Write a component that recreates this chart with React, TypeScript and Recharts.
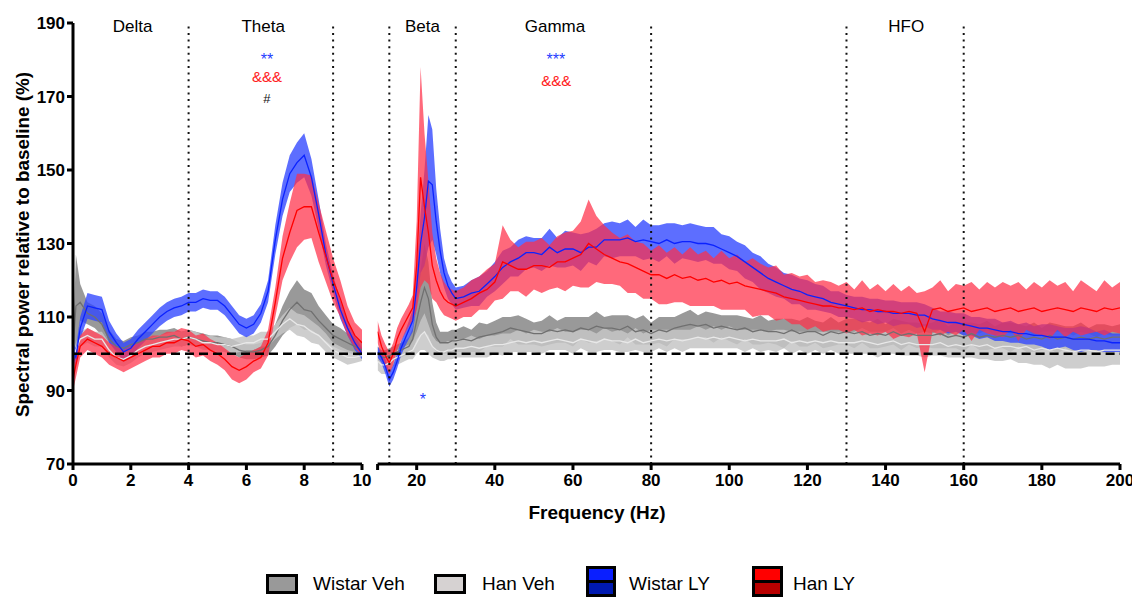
import React from 'react';
import { ComposedChart, Area, Line, XAxis, YAxis, ReferenceLine, ReferenceDot } from 'recharts';

// ---------- Left panel (0-10 Hz) ----------
const LEFT_FREQ = [0, 0.1, 0.25, 0.5, 0.75, 1, 1.25, 1.5, 1.75, 2, 2.25, 2.5, 2.75, 3, 3.25, 3.5, 3.75, 4, 4.25, 4.5, 4.75, 5, 5.25, 5.5, 5.75, 6, 6.25, 6.5, 6.75, 7, 7.25, 7.5, 7.75, 8, 8.25, 8.5, 8.75, 9, 9.25, 9.5, 9.75, 10];

const WISTAR_VEH_L_MEAN = [101, 113, 114, 111, 110, 108, 104, 102, 101.5, 102.5, 103, 104, 104, 104.5, 104.5, 105, 104, 104.5, 104, 103.5, 103, 103, 102.5, 102, 101, 100.5, 100.5, 101, 102, 105, 109, 112, 114, 112, 111.5, 109, 107, 105, 104, 103, 102, 101];
const WISTAR_VEH_L_SEM = [1, 14, 5, 3, 3, 3, 2.5, 2, 2, 2, 2, 2, 2, 2, 2, 2, 2, 2, 2, 2, 2, 2, 2, 2, 2, 2, 2, 2, 2.5, 3, 4, 5, 6, 5.5, 5, 4, 3.5, 3, 3, 2.5, 2.5, 2];

const HAN_VEH_L_MEAN = [99, 101, 104, 105, 104, 104, 101, 99, 98.5, 99.5, 101, 102, 102.5, 103, 103.5, 104, 104, 104.5, 104, 103, 103, 102.5, 102.5, 102, 102.5, 103, 103, 104, 104, 106, 108, 109.5, 108, 107.5, 106, 105, 103, 101, 100, 99, 99, 99.5];
const HAN_VEH_L_SEM = [1.5, 2, 2, 2, 2, 2, 2, 2, 2, 2, 2, 2, 2, 2, 2, 2, 2, 2, 2, 2, 2, 2, 2, 2, 2, 2, 2, 2, 2, 2, 2.5, 3, 3, 3, 3, 2.5, 2.5, 2, 2, 2, 1.5, 1.5];

const WISTAR_LY_L_MEAN = [101, 99, 107, 113, 112.5, 112, 106, 103, 100.5, 101.5, 104, 106, 108, 110, 111.5, 112.5, 113, 114, 114, 115, 114.5, 114.5, 113, 110.5, 108, 107, 108, 111, 117, 131, 142, 149, 152, 154, 148, 138, 127, 119, 112, 107, 103, 100];
const WISTAR_LY_L_SEM = [2, 2.5, 3, 3.5, 3.5, 3.5, 3, 2.5, 2.5, 2.5, 2.5, 2.5, 2.5, 2.5, 2.5, 2.5, 2.5, 2.5, 2.5, 2.5, 2.5, 2.5, 2.5, 2.5, 2.5, 2.5, 2.5, 2.5, 3, 4, 4.5, 5, 5.5, 6, 5, 4, 3, 2.5, 2.5, 2, 2, 1.5];

const HAN_LY_L_MEAN = [93, 97, 102, 104, 103, 102, 100, 99, 98, 99, 100, 101, 102, 102, 103, 103, 104, 103.5, 102, 102.5, 101, 100, 98.5, 96.5, 95.5, 96.5, 98, 99, 103, 114, 126, 133, 139, 140, 140, 133, 126.5, 120, 115, 109, 105, 103];
const HAN_LY_L_SEM = [3, 3.5, 3, 3, 3, 3, 3, 3, 3, 3, 3, 3, 3, 3, 3, 3, 3, 3, 3, 3, 3, 3, 3, 3.5, 3.5, 3.5, 3, 3, 3.5, 4, 6, 8, 10, 9, 8.5, 8, 7, 6, 5, 4, 3.5, 3.5];

// ---------- Right panel (10-200 Hz) ----------
const RIGHT_FREQ = [
  10, 11, 12, 13, 14, 15, 16, 17, 18, 19, 20, 21, 22, 23, 24, 25, 26, 27, 28, 29, 30,
  32, 34, 36, 38, 40, 42, 44, 46, 48, 50,
  52, 54, 56, 58, 60, 62, 64, 66, 68, 70,
  72, 74, 76, 78, 80, 82, 84, 86, 88, 90,
  92, 94, 96, 98, 100, 102, 104, 106, 108, 110,
  112, 114, 116, 118, 120, 122, 124, 126, 128, 130,
  132, 134, 136, 138, 140, 142, 144, 146, 148, 150,
  152, 154, 156, 158, 160, 162, 164, 166, 168, 170,
  172, 174, 176, 178, 180, 182, 184, 186, 188, 190,
  192, 194, 196, 198, 200,
];

const WISTAR_VEH_R_MEAN = [
  100, 99, 99, 99.5, 100, 100.5, 101, 101.5, 102, 104, 109, 114, 118, 115, 108, 104.5, 103, 103, 103, 103.5, 103.5,
  104, 103.5, 104.5, 105, 105.5, 106, 107, 106.5, 106, 105.5,
  105.5, 106.5, 106, 106.5, 106, 107, 106.5, 107.5, 107, 107,
  106.5, 107.5, 106, 106.5, 105.5, 106.5, 106, 107, 107.5, 108,
  107.5, 108, 107, 107.5, 107, 106.5, 107, 106, 106.5, 106,
  106, 105.5, 106.5, 105.5, 106, 106, 105, 106, 105.5, 106,
  105.5, 106, 105, 105.5, 105, 106, 105, 105.5, 105, 105,
  105, 105.5, 104.5, 105, 104.5, 105.5, 104.5, 105, 104.5, 105,
  104.5, 105, 104, 104.5, 104, 105, 104, 104.5, 104, 104.5,
  104, 104.5, 104, 104.5, 104.5,
];
const WISTAR_VEH_R_SEM = [
  2, 2, 2, 2, 2, 2, 2, 2, 2.5, 3, 5, 9, 12, 10, 6, 4, 3, 3, 3, 3, 3,
  3.5, 3, 4, 3, 3.5, 4, 3, 4, 3.5, 3,
  3.5, 4, 3, 3.5, 4, 3, 3.5, 4, 3, 3.5,
  4, 3, 3.5, 4, 3, 3.5, 4, 3, 3.5, 4,
  3, 3.5, 4, 3, 3.5, 4, 3, 3.5, 4, 3,
  3.5, 4, 3, 3.5, 4, 3, 3.5, 4, 3, 3.5,
  4, 3, 3.5, 4, 3, 3.5, 4, 3, 3.5, 3,
  3.5, 4, 3, 3.5, 4, 3, 3.5, 4, 3, 3.5,
  4, 3, 3.5, 4, 3, 3.5, 4, 3, 3.5, 4,
  3, 3.5, 4, 3, 3.5,
];

const HAN_VEH_R_MEAN = [
  98, 97, 97, 97.5, 98.5, 99, 99.5, 100, 100.5, 101, 103, 105, 106, 104, 102, 101, 100.5, 100.5, 101, 101, 101.5,
  101.5, 102, 101.5, 102, 102.5, 102.5, 103, 103.5, 103, 103.5,
  103, 103.5, 104, 103.5, 103, 104, 103.5, 103, 104, 103.5,
  103.5, 103, 104, 103, 103.5, 104, 103.5, 104, 103.5, 104,
  104.5, 104, 104.5, 104, 104.5, 104, 103.5, 104, 103.5, 103.5,
  103.5, 104, 103, 103.5, 103, 103.5, 103, 103.5, 103, 103,
  103, 103.5, 103, 102.5, 103, 103.5, 102.5, 103, 102.5, 102.5,
  102.5, 103, 102, 102.5, 102, 102.5, 102, 102.5, 101.5, 102,
  102, 101.5, 102, 101, 101.5, 101, 101.5, 101, 100.5, 101,
  101, 100.5, 101, 101, 101,
];
const HAN_VEH_R_SEM = [
  2.5, 2.5, 2.5, 2.5, 2, 2, 2, 2, 2, 2.5, 3, 4, 5, 4, 3, 2.5, 2.5, 2.5, 2.5, 2.5, 2.5,
  2.5, 3, 2.5, 3, 2.5, 3, 2.5, 3, 2.5, 3,
  3, 2.5, 3, 2.5, 3, 2.5, 3, 2.5, 3, 2.5,
  3, 2.5, 3, 2.5, 3, 2.5, 3, 2.5, 3, 2.5,
  3, 2.5, 3, 2.5, 3, 2.5, 3, 2.5, 3, 2.5,
  3, 2.5, 3, 2.5, 3, 2.5, 3, 2.5, 3, 3,
  3, 3.5, 3, 3.5, 3, 3.5, 3, 3.5, 3, 3.5,
  3, 3.5, 3, 3.5, 3, 3.5, 3.5, 4, 3.5, 4,
  3.5, 4, 4.5, 4, 4.5, 5, 4.5, 5, 4.5, 5,
  4.5, 4, 4.5, 4, 4,
];

const WISTAR_LY_R_MEAN = [
  100.5, 99, 96.5, 93, 95, 98, 101.5, 104, 106.5, 109, 118, 130, 137, 147, 146, 136, 128, 122, 118.5, 116.5, 115,
  115.5, 116.5, 117, 119, 121, 123.5, 125, 126, 127.5, 127.5,
  127, 129, 127.5, 128.5, 128.5, 127.5, 129, 129, 131, 131,
  131, 131.5, 130.5, 131, 130.5, 130, 131, 130, 130.5, 130.5,
  130, 130, 129.5, 128.5, 127.5, 126.5, 125, 123.5, 122, 120.5,
  119.5, 118.5, 117.5, 117, 116, 115.5, 115, 114, 113.5, 113,
  112.5, 112, 112, 111.5, 111.5, 111, 111, 111, 110.5, 110.5,
  109.5, 109, 108.5, 108.5, 108, 107.5, 107, 107, 106.5, 106,
  106, 105.5, 105.5, 105, 105, 104.5, 104.5, 104.5, 104, 104,
  104, 103.5, 103.5, 103, 103,
];
const WISTAR_LY_R_SEM = [
  1.5, 1.5, 2, 2, 2, 2, 2, 2, 2.5, 3, 5, 8, 13, 18, 15, 9, 6, 4, 3.5, 3, 3,
  3, 3.5, 4, 3.5, 4, 4.5, 4, 5, 4.5, 4,
  4.5, 5, 4, 5, 4.5, 5, 4, 5, 4.5, 5,
  4.5, 5, 4, 5.5, 4.5, 5, 4.5, 5.5, 4.5, 5,
  5, 4.5, 5, 4, 4.5, 4, 4.5, 4, 4.5, 4,
  4, 3.5, 4, 3.5, 4, 3.5, 3.5, 3, 3.5, 3,
  3, 3.5, 3, 3.5, 3, 3.5, 3, 3, 3.5, 3,
  3, 2.5, 3, 2.5, 3, 2.5, 3, 2.5, 3, 2.5,
  3, 2.5, 3, 2.5, 3, 3.5, 3, 2.5, 3, 3.5,
  3, 2.5, 3, 2.5, 2.5,
];

const HAN_LY_R_MEAN = [
  106, 102, 99.5, 97.5, 100, 104, 106.5, 108.5, 110.5, 112.5, 124, 148, 140, 133, 124, 120, 117, 115, 114, 113.5, 113,
  114, 115, 116.5, 117.5, 119.5, 125, 124, 123, 123, 124,
  124, 123.5, 125, 125, 126, 127, 130, 128.5, 127, 126,
  125, 124.5, 123.5, 122.5, 121.5, 121.5, 120.5, 121.5, 120.5, 121,
  120, 120.5, 119.5, 120, 119, 119.5, 118.5, 118, 117.5, 117,
  116.5, 115.5, 115, 114.5, 114, 113.5, 113, 113, 112.5, 112.5,
  112, 112.5, 111.5, 112, 111.5, 111.5, 111, 111.5, 111, 106,
  112, 112.5, 111.5, 112, 112.5, 111.5, 112, 112.5, 111.5, 112,
  112.5, 111.5, 112, 112.5, 111.5, 112, 112.5, 112, 111.5, 112.5,
  112, 111.5, 112.5, 112, 112.5,
];
const HAN_LY_R_SEM = [
  3, 3, 3, 3, 3, 3, 3, 3, 3, 3.5, 12, 30, 20, 14, 9, 6, 5, 4.5, 4, 4, 4,
  4, 5, 4.5, 5.5, 5, 10, 7, 6, 7.5, 6.5,
  7.5, 6, 7, 8, 7.5, 9, 12, 9, 8, 7,
  6.5, 8, 7, 7.5, 6.5, 8, 7, 7.5, 6.5, 8,
  7, 7.5, 6.5, 8, 7, 7.5, 6.5, 8, 7, 6.5,
  7.5, 6, 7, 6.5, 7.5, 6, 7, 6.5, 6, 7,
  5.5, 7.5, 6, 7, 5.5, 7.5, 6, 7, 5.5, 11,
  6, 7.5, 5.5, 7, 6, 8, 5.5, 7, 6.5, 7.5,
  6, 8, 5.5, 7, 6.5, 8, 6, 7.5, 5.5, 7.5,
  6.5, 5.5, 7.5, 6, 7,
];

// ---------- Axes / annotations ----------
const Y_TICKS = [70, 90, 110, 130, 150, 170, 190];
const LEFT_X_TICKS = [0, 2, 4, 6, 8, 10];
const RIGHT_X_TICKS = [10, 20, 40, 60, 80, 100, 120, 140, 160, 180, 200];
const LEFT_BOUNDS = [4, 9];
const RIGHT_BOUNDS = [13, 30, 80, 130, 160];
const LEFT_BANDS = [
  { name: 'Delta', x: 2.06 },
  { name: 'Theta', x: 6.58 },
];
const RIGHT_BANDS = [
  { name: 'Beta', x: 21.5 },
  { name: 'Gamma', x: 55.4 },
  { name: 'HFO', x: 145.3 },
];
const LEFT_MARKS = [
  { text: '**', x: 6.71, y: 180.2, color: '#1f3dff', size: 16 },
  { text: '&&&', x: 6.71, y: 175.3, color: '#ff2020', size: 15 },
  { text: '#', x: 6.71, y: 169.6, color: '#111', size: 13 },
];
const RIGHT_MARKS = [
  { text: '***', x: 55.6, y: 180.2, color: '#1f3dff', size: 16 },
  { text: '&&&', x: 55.7, y: 174.2, color: '#ff2020', size: 15 },
  { text: '*', x: 21.6, y: 87.6, color: '#1f3dff', size: 16 },
];

const SERIES = [
  { key: 'wv', name: 'Wistar Veh', fill: '#878787', fillOpacity: 0.85, line: '#707070' },
  { key: 'hv', name: 'Han Veh', fill: '#c6c6c6', fillOpacity: 0.85, line: '#e8e8e8' },
  { key: 'wl', name: 'Wistar LY', fill: '#2f45ff', fillOpacity: 0.78, line: '#0a22ff' },
  { key: 'hl', name: 'Han LY', fill: '#ff2f48', fillOpacity: 0.72, line: '#ff0000' },
];

function buildRows(freq: number[], sets: Record<string, [number[], number[]]>) {
  return freq.map((f, i) => {
    const row: Record<string, any> = { f };
    Object.keys(sets).forEach((k) => {
      const [m, s] = sets[k];
      row[k + 'M'] = m[i];
      row[k + 'B'] = [m[i] - s[i], m[i] + s[i]];
    });
    return row;
  });
}

const leftRows = buildRows(LEFT_FREQ, {
  wv: [WISTAR_VEH_L_MEAN, WISTAR_VEH_L_SEM],
  hv: [HAN_VEH_L_MEAN, HAN_VEH_L_SEM],
  wl: [WISTAR_LY_L_MEAN, WISTAR_LY_L_SEM],
  hl: [HAN_LY_L_MEAN, HAN_LY_L_SEM],
});
const rightRows = buildRows(RIGHT_FREQ, {
  wv: [WISTAR_VEH_R_MEAN, WISTAR_VEH_R_SEM],
  hv: [HAN_VEH_R_MEAN, HAN_VEH_R_SEM],
  wl: [WISTAR_LY_R_MEAN, WISTAR_LY_R_SEM],
  hl: [HAN_LY_R_MEAN, HAN_LY_R_SEM],
});

const FONT = "'Liberation Sans', Arial, Helvetica, sans-serif";
const TICK = { fontSize: 17, fontWeight: 700, fill: '#000', fontFamily: FONT };
const AXIS_LINE = { stroke: '#000', strokeWidth: 3 };
const TICK_LINE = { stroke: '#000', strokeWidth: 3 };
const DOTTED = { stroke: '#111', strokeWidth: 2, strokeDasharray: '2 4.6' };
const DASHED = { stroke: '#000', strokeWidth: 2.5, strokeDasharray: '9 5' };

function seriesElements() {
  const bands = SERIES.map((s) => (
    <Area
      key={s.key + 'B'}
      type="linear"
      dataKey={s.key + 'B'}
      stroke="none"
      fill={s.fill}
      fillOpacity={s.fillOpacity}
      isAnimationActive={false}
      activeDot={false}
    />
  ));
  const lines = SERIES.map((s) => (
    <Line
      key={s.key + 'M'}
      type="linear"
      dataKey={s.key + 'M'}
      stroke={s.line}
      strokeWidth={1.3}
      dot={false}
      activeDot={false}
      isAnimationActive={false}
    />
  ));
  return [...bands, ...lines];
}

function textDot(key: string, x: number, y: number, text: string, color: string, size: number) {
  return (
    <ReferenceDot
      key={key}
      x={x}
      y={y}
      r={1}
      fill="none"
      stroke="none"
      label={{ value: text, position: 'center', fill: color, fontSize: size, fontFamily: FONT }}
    />
  );
}

const CHART_H = 530;
const MARGIN_TOP = 15;
const MARGIN_BOTTOM = 34;

export default function App() {
  return (
    <div style={{ position: 'relative', width: 1132, height: 590, fontFamily: FONT, background: '#fff' }}>
      <div style={{ position: 'absolute', left: 0, top: 0 }}>
        <ComposedChart
          width={368}
          height={CHART_H}
          data={leftRows}
          margin={{ top: MARGIN_TOP, right: 14, bottom: MARGIN_BOTTOM, left: 0 }}
        >
          <XAxis
            type="number"
            dataKey="f"
            domain={[0, 10]}
            ticks={LEFT_X_TICKS}
            allowDataOverflow
            interval={0}
            height={40}
            tickSize={6}
            tickMargin={4}
            axisLine={AXIS_LINE}
            tickLine={TICK_LINE}
            tick={TICK}
          />
          <YAxis
            type="number"
            domain={[70, 190]}
            ticks={Y_TICKS}
            allowDataOverflow
            interval={0}
            width={65}
            tickSize={6}
            tickMargin={2}
            axisLine={AXIS_LINE}
            tickLine={TICK_LINE}
            tick={TICK}
          />
          {seriesElements()}
          <ReferenceLine segment={[{ x: 0, y: 100 }, { x: 10.5, y: 100 }]} ifOverflow="visible" {...DASHED} />
          {LEFT_BOUNDS.map((b) => (
            <ReferenceLine key={'lb' + b} x={b} {...DOTTED} />
          ))}
          {LEFT_BANDS.map((b) => textDot('lband' + b.name, b.x, 189.1, b.name, '#000', 17))}
          {LEFT_MARKS.map((m, i) => textDot('lm' + i, m.x, m.y, m.text, m.color, m.size))}
        </ComposedChart>
      </div>
      <div style={{ position: 'absolute', left: 360, top: 0 }}>
        <ComposedChart
          width={772}
          height={CHART_H}
          data={rightRows}
          margin={{ top: MARGIN_TOP, right: 20, bottom: MARGIN_BOTTOM, left: 9.6 }}
        >
          <XAxis
            type="number"
            dataKey="f"
            domain={[10, 200]}
            ticks={RIGHT_X_TICKS}
            allowDataOverflow
            interval={0}
            height={40}
            tickSize={6}
            tickMargin={4}
            axisLine={AXIS_LINE}
            tickLine={TICK_LINE}
            tick={TICK}
            tickFormatter={(v: number) => (v === 10 ? '' : String(v))}
          />
          <YAxis type="number" domain={[70, 190]} ticks={Y_TICKS} allowDataOverflow hide width={0} />
          {seriesElements()}
          <ReferenceLine y={100} {...DASHED} />
          {RIGHT_BOUNDS.map((b) => (
            <ReferenceLine key={'rb' + b} x={b} {...DOTTED} />
          ))}
          {RIGHT_BANDS.map((b) => textDot('rband' + b.name, b.x, 189.1, b.name, '#000', 17))}
          {RIGHT_MARKS.map((m, i) => textDot('rm' + i, m.x, m.y, m.text, m.color, m.size))}
        </ComposedChart>
      </div>
      <svg
        width={1132}
        height={590}
        style={{ position: 'absolute', left: 0, top: 0, pointerEvents: 'none' }}
      >
        <text
          x={14}
          y={236.5}
          transform="rotate(-90 14 236.5)"
          textAnchor="middle"
          dominantBaseline="central"
          fontWeight="bold"
          fontSize={19}
          fontFamily={FONT}
          textLength={345}
          lengthAdjust="spacingAndGlyphs"
          fill="#000"
        >
          Spectral power relative to baseline (%)
        </text>
        <text
          x={589}
          y={504}
          textAnchor="middle"
          dominantBaseline="central"
          fontWeight="bold"
          fontSize={19}
          fontFamily={FONT}
          fill="#000"
        >
          Frequency (Hz)
        </text>
        {/* Legend */}
        <rect x={259.5} y={567.5} width={29} height={17} fill="#999999" stroke="#000" strokeWidth={3} />
        <text x={305} y={582} fontSize={19} fontFamily={FONT} fill="#000">Wistar Veh</text>
        <rect x={427.5} y={567.5} width={29} height={17} fill="#d6d2d2" stroke="#000" strokeWidth={3} />
        <text x={474} y={582} fontSize={19} fontFamily={FONT} fill="#000">Han Veh</text>
        <rect x={579.5} y={559.5} width={27} height={14} fill="#0a1fff" />
        <rect x={579.5} y={573.5} width={27} height={14} fill="#0019b0" />
        <rect x={579.5} y={559.5} width={27} height={28} fill="none" stroke="#000" strokeWidth={3} />
        <line x1={579.5} x2={606.5} y1={573.5} y2={573.5} stroke="#000" strokeWidth={3} />
        <text x={621} y={582} fontSize={19} fontFamily={FONT} fill="#000">Wistar LY</text>
        <rect x={745.5} y={559.5} width={28} height={14} fill="#ff0000" />
        <rect x={745.5} y={573.5} width={28} height={14} fill="#b80000" />
        <rect x={745.5} y={559.5} width={28} height={28} fill="none" stroke="#000" strokeWidth={3} />
        <line x1={745.5} x2={773.5} y1={573.5} y2={573.5} stroke="#000" strokeWidth={3} />
        <text x={785} y={582} fontSize={19} fontFamily={FONT} fill="#000">Han LY</text>
      </svg>
    </div>
  );
}
